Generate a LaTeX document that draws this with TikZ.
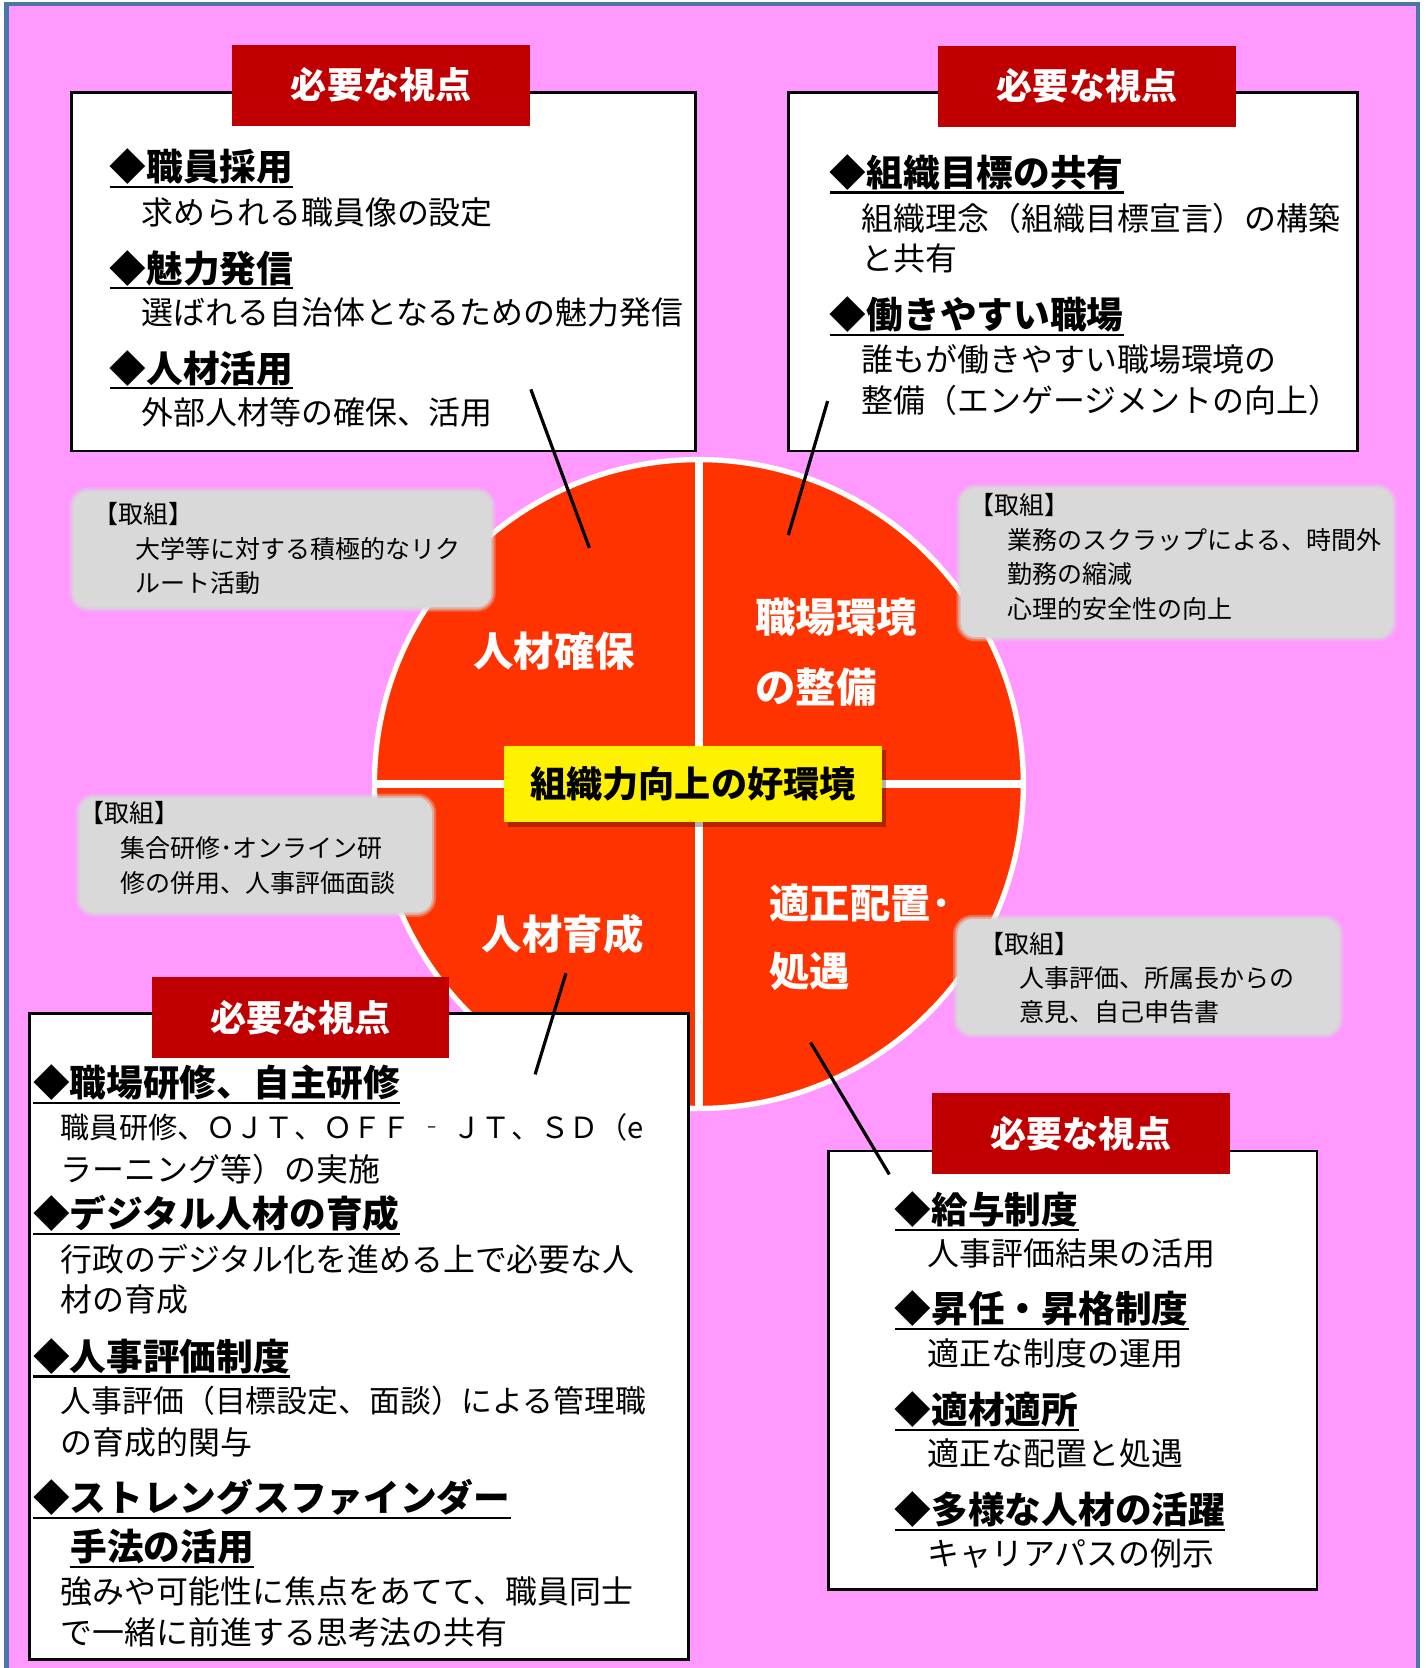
\documentclass[tikz,border=0pt]{standalone}
\usepackage{fontspec}
\newfontfamily\cjk{Noto Sans CJK JP}
\usetikzlibrary{shadows}
\definecolor{bgpink}{RGB}{255,153,255}
\definecolor{frameblue}{RGB}{74,118,168}
\definecolor{tabred}{RGB}{192,0,0}
\definecolor{wheelred}{RGB}{255,51,0}
\definecolor{greybox}{RGB}{217,217,217}
\tikzset{
  viewbox/.style={draw=black, line width=2.5pt, fill=white, inner sep=0pt},
  tabbox/.style={fill=tabred, text=white, inner sep=0pt, minimum width=280pt, minimum height=76pt,
    font=\cjk\bfseries\fontsize{34}{34}\selectfont},
  softbox/.style={fill=greybox, rounded corners=14pt, inner sep=0pt,
    preaction={draw=greybox, line width=8pt, draw opacity=0.35, rounded corners=16pt},
    preaction={draw=greybox, line width=4pt, draw opacity=0.6, rounded corners=15pt}},
  txt/.style={anchor=west, inner sep=0pt, text=black},
  hdtxt/.style={anchor=west, inner sep=0pt, text=black, font=\cjk\bfseries\fontsize{34.5}{34.5}\selectfont},
  quad/.style={inner sep=0pt, text=white, font=\cjk\bfseries\fontsize{38}{38}\selectfont},
  uline/.style={line width=2pt, black},
  connector/.style={line width=3pt, black},
}
\newcommand\mytx[5]{\node[txt, font=\cjk\fontsize{#4}{#4}\selectfont] (#1) at (#2,#3) {#5};}
\newcommand\myhd[4]{\node[hdtxt] (#1) at (#2,#3) {#4};
  \draw[uline] ([yshift=-19pt]#1.west) -- ([yshift=-19pt]#1.east);}
\begin{document}
\begin{tikzpicture}[x=1pt,y=-1pt]
\useasboundingbox (0,0) rectangle (1340,1568);
\fill[white] (0,0) rectangle (1340,1568);
\fill[bgpink] (6,4) rectangle (1333,1580);
\draw[frameblue, line width=4pt] (6,4) rectangle (1333,1580);

% ---------- top boxes ----------
\node[viewbox, minimum width=587pt, minimum height=337pt] (tlbox) at (360.5,255.5) {};
\node[tabbox] (tltab) at (358.5,80) {必要な視点};
\myhd{tlh1}{103}{157}{◆職員採用}
\mytx{tlb1}{133}{200}{30}{求められる職員像の設定}
\myhd{tlh2}{103}{252}{◆魅力発信}
\mytx{tlb2}{133}{294}{30}{選ばれる自治体となるための魅力発信}
\myhd{tlh3}{103}{346}{◆人材活用}
\mytx{tlb3}{133}{388}{30}{外部人材等の確保、活用}

\node[viewbox, minimum width=535pt, minimum height=337pt] (trbox) at (1008.5,255.5) {};
\node[tabbox] (trtab) at (1022,81) {必要な視点};
\myhd{trh1}{780}{162}{◆組織目標の共有}
\mytx{trb1}{810}{205}{30}{組織理念（組織目標宣言）の構築}
\mytx{trb2}{810}{243}{30}{と共有}
\myhd{trh2}{780}{296}{◆働きやすい職場}
\mytx{trb3}{810}{338}{30}{誰もが働きやすい職場環境の}
\mytx{trb4}{810}{376}{30}{整備（エンゲージメントの向上）}

% ---------- wheel ----------
\node[circle, fill=wheelred, draw=white, line width=5pt, minimum size=610pt, inner sep=0pt] (wheel) at (657,737) {};
\draw[white, line width=8pt] (wheel.north) -- (wheel.south);
\draw[white, line width=8pt] (wheel.west) -- (wheel.east);

% ---------- grey boxes ----------
\node[softbox, minimum width=393pt, minimum height=109pt] (g1) at (265.5,516.5) {};
\mytx{g1a}{88}{483}{23.5}{【取組】}
\mytx{g1b}{127}{516}{23.5}{大学等に対する積極的なリク}
\mytx{g1c}{127}{548}{23.5}{ルート活動}

\node[softbox, minimum width=406pt, minimum height=140pt] (g2) at (1106,529) {};
\mytx{g2a}{911}{475}{23.5}{【取組】}
\mytx{g2b}{947}{508}{23.5}{業務のスクラップによる、時間外}
\mytx{g2c}{947}{540}{23.5}{勤務の縮減}
\mytx{g2d}{947}{572}{23.5}{心理的安全性の向上}

\node[softbox, minimum width=331pt, minimum height=108pt] (g3) at (240.5,804) {};
\mytx{g3a}{75}{764}{23.5}{【取組】}
\mytx{g3b}{113}{797}{23.5}{集合研修･オンライン研}
\mytx{g3c}{113}{830}{23.5}{修の併用、人事評価面談}

\node[softbox, minimum width=359pt, minimum height=108pt] (g4) at (1079.5,918) {};
\mytx{g4a}{921}{887}{23.5}{【取組】}
\mytx{g4b}{958}{919}{23.5}{人事評価、所属長からの}
\mytx{g4c}{958}{951}{23.5}{意見、自己申告書}

% ---------- quadrant labels ----------
\node[quad] (q1) at (521,612) {人材確保};
\node[quad, anchor=west] (q2a) at (710,580) {職場環境};
\node[quad, anchor=west] (q2b) at (710,646) {の整備};
\node[quad, anchor=west] (q3a) at (723,849) {適正配置･};
\node[quad, anchor=west] (q3b) at (723,913) {処遇};
\node[quad] (q4) at (529,878) {人材育成};

% ---------- centre ----------
\node[fill=yellow, minimum width=355pt, minimum height=72pt, inner sep=0pt,
  drop shadow={shadow xshift=4pt, shadow yshift=-4pt, fill=black, opacity=0.3},
  font=\cjk\bfseries\fontsize{34}{34}\selectfont] (center) at (651.5,737) {組織力向上の好環境};

% ---------- bottom boxes ----------
\node[viewbox, minimum width=619pt, minimum height=607pt] (blbox) at (337.5,1256.5) {};
\node[tabbox] (bltab) at (282.5,956.5) {必要な視点};
\myhd{blh1}{31}{1018}{◆職場研修、自主研修}
\mytx{blb1}{57}{1060}{27.4}{職員研修、ＯＪＴ、ＯＦＦ ‐ ＪＴ、ＳＤ（e}
\mytx{blb2}{57}{1099}{30}{ラーニング等）の実施}
\myhd{blh2}{31}{1141}{◆デジタル人材の育成}
\mytx{blb3}{57}{1184}{30}{行政のデジタル化を進める上で必要な人}
\mytx{blb4}{57}{1222}{30}{材の育成}
\myhd{blh3}{31}{1275}{◆人事評価制度}
\mytx{blb5}{57}{1317}{29}{人事評価（目標設定、面談）による管理職}
\mytx{blb6}{57}{1356}{30}{の育成的関与}
\myhd{blh4}{31}{1408}{◆ストレングスファインダー}
\myhd{blh5}{66}{1454}{手法の活用}
\mytx{blb7}{57}{1496}{30}{強みや可能性に焦点をあてて、職員同士}
\mytx{blb8}{57}{1534}{30}{で一緒に前進する思考法の共有}

\node[viewbox, minimum width=459pt, minimum height=412pt] (brbox) at (1008.5,1288) {};
\node[tabbox] (brtab) at (1016,1065.5) {必要な視点};
\myhd{brh1}{841}{1137}{◆給与制度}
\mytx{brb1}{872}{1178}{30}{人事評価結果の活用}
\myhd{brh2}{841}{1230}{◆昇任・昇格制度}
\mytx{brb2}{872}{1272}{30}{適正な制度の運用}
\myhd{brh3}{841}{1325}{◆適材適所}
\mytx{brb3}{872}{1366}{30}{適正な配置と処遇}
\myhd{brh4}{841}{1419}{◆多様な人材の活躍}
\mytx{brb4}{872}{1460}{30}{キャリアパスの例示}

% ---------- connectors ----------
\coordinate (c1a) at (499,366); \coordinate (c1b) at (554,515);
\coordinate (c2a) at (778,377); \coordinate (c2b) at (741,503);
\coordinate (c3a) at (532,915); \coordinate (c3b) at (503,1010);
\coordinate (c4a) at (762,980); \coordinate (c4b) at (836,1104);
\draw[connector] (c1a) -- (c1b);
\draw[connector] (c2a) -- (c2b);
\draw[connector] (c3a) -- (c3b);
\draw[connector] (c4a) -- (c4b);
\end{tikzpicture}
\end{document}
